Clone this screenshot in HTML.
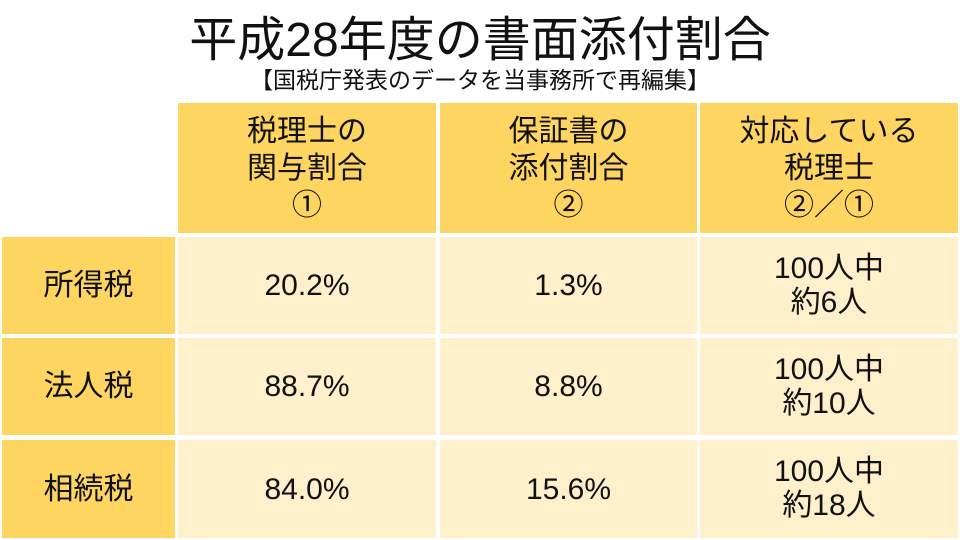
<!DOCTYPE html>
<html><head><meta charset="utf-8"><style>
body{margin:0;width:960px;height:540px;background:#fff;position:relative;overflow:hidden;font-family:"Liberation Sans","Noto Sans CJK JP",sans-serif;color:#111}
.t{position:absolute;left:0;width:960px;text-align:center;white-space:nowrap}
.c{position:absolute;display:flex;align-items:center;justify-content:center;text-align:center;font-size:30px;line-height:37px}
.h{background:#FFD562}
.b{background:#FFF0CC}
</style></head><body>
<div class="t" style="top:11px;font-size:48px;line-height:60px">平成28年度の書面添付割合</div>
<div class="t" style="top:66px;font-size:23px;line-height:28px">【国税庁発表のデータを当事務所で再編集】</div>

<div class="c h" style="left:178px;top:103px;width:258px;height:130px">税理士の<br>関与割合<br>①</div>
<div class="c h" style="left:440px;top:103px;width:257px;height:130px">保証書の<br>添付割合<br>②</div>
<div class="c h" style="left:700px;top:103px;width:258px;height:130px">対応している<br>税理士<br>②／①</div>

<div class="c h" style="left:2px;top:237px;width:173px;height:97px">所得税</div>
<div class="c b" style="left:178px;top:237px;width:258px;height:97px">20.2%</div>
<div class="c b" style="left:440px;top:237px;width:257px;height:97px">1.3%</div>
<div class="c b" style="left:700px;top:237px;width:258px;height:97px;line-height:34px">100人中<br>約6人</div>

<div class="c h" style="left:2px;top:338px;width:173px;height:97px">法人税</div>
<div class="c b" style="left:178px;top:338px;width:258px;height:97px">88.7%</div>
<div class="c b" style="left:440px;top:338px;width:257px;height:97px">8.8%</div>
<div class="c b" style="left:700px;top:338px;width:258px;height:97px;line-height:34px">100人中<br>約10人</div>

<div class="c h" style="left:2px;top:440px;width:173px;height:98px">相続税</div>
<div class="c b" style="left:178px;top:440px;width:258px;height:98px">84.0%</div>
<div class="c b" style="left:440px;top:440px;width:257px;height:98px">15.6%</div>
<div class="c b" style="left:700px;top:440px;width:258px;height:98px;line-height:34px">100人中<br>約18人</div>
</body></html>
